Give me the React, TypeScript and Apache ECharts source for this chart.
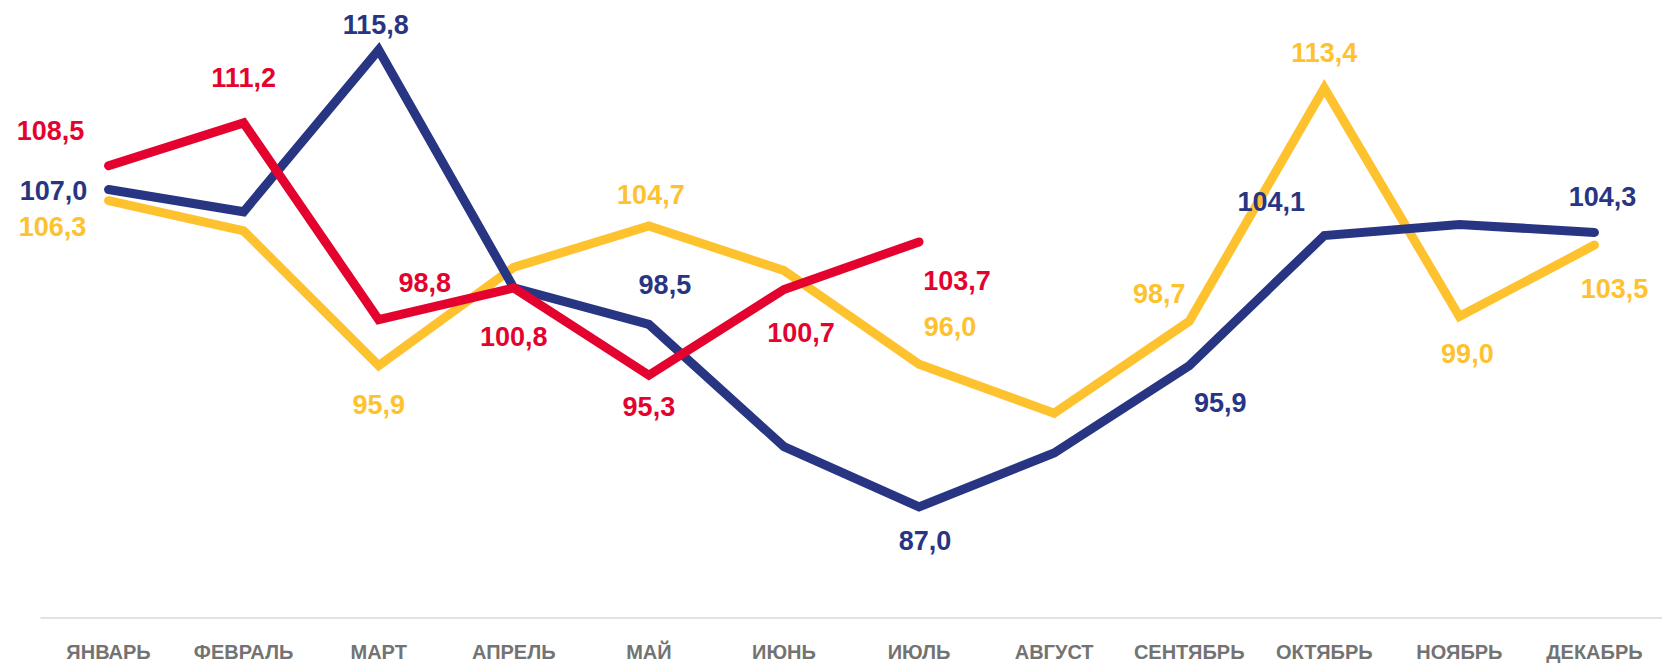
import React, { useEffect, useRef } from "react";
import * as echarts from "echarts";

const months = ["ЯНВАРЬ", "ФЕВРАЛЬ", "МАРТ", "АПРЕЛЬ", "МАЙ", "ИЮНЬ", "ИЮЛЬ", "АВГУСТ", "СЕНТЯБРЬ", "ОКТЯБРЬ", "НОЯБРЬ", "ДЕКАБРЬ"];

const navyValues = [107.0, 105.6, 115.8, 100.8, 98.5, 90.8, 87.0, 90.4, 95.9, 104.1, 104.8, 104.3];
const yellowValues = [106.3, 104.4, 95.9, 102.1, 104.7, 101.9, 96.0, 92.9, 98.7, 113.4, 99.0, 103.5];
const redValues = [108.5, 111.2, 98.8, 100.8, 95.3, 100.7, 103.7];

// label offsets [dx, dy] relative to point; null = no label
const navyLabelOffsets: (number[] | null)[] = [[-55, 1], null, [-3, -25], null, [16, -39], null, [6, 34], null, [31, 37], [-53, -34], null, [8, -35]];
const yellowLabelOffsets: (number[] | null)[] = [[-56, 26], null, [0, 39], null, [2, -31], null, [31, -37], null, [-30, -27], [0, -35], [8, 37], [20, 44]];
const redLabelOffsets: (number[] | null)[] = [[-58, -35], [0, -45], [46, -37], [0, 49], [0, 32], [17, 43], [38, 39]];

const NAVY = "#283583";
const YELLOW = "#ffc22f";
const RED = "#e4032e";

const fmt = (v: number) => v.toFixed(1).replace(".", ",");

function buildData(values: number[], offsets: (number[] | null)[], color: string) {
  return values.map((v, i) => {
    const off = offsets[i];
    return {
      value: v,
      label: off
        ? {
            show: true,
            position: "inside",
            offset: off,
            color,
            fontSize: 27,
            fontWeight: "bold",
            fontFamily: "Liberation Sans, Arial, sans-serif",
            formatter: () => fmt(v),
          }
        : { show: false },
    };
  });
}

function makeSeries(name: string, values: number[], offsets: (number[] | null)[], color: string, z: number) {
  return {
    name,
    type: "line",
    z,
    data: buildData(values, offsets, color),
    symbol: "circle",
    symbolSize: 0.1,
    showSymbol: true,
    itemStyle: { color },
    lineStyle: { color, width: 9, cap: "round", join: "miter" },
    emphasis: { disabled: true },
  };
}

export default function App() {
  const ref = useRef<HTMLDivElement>(null);
  useEffect(() => {
    if (!ref.current) return;
    const chart = echarts.init(ref.current, null, { renderer: "svg" });
    chart.setOption({
      animation: false,
      backgroundColor: "#ffffff",
      grid: { left: 41, width: 1625, top: 15, bottom: 46, containLabel: false },
      xAxis: {
        type: "category",
        data: months,
        boundaryGap: true,
        axisLine: { show: true, lineStyle: { color: "#d9d9d9", width: 1.5 } },
        axisTick: { show: false },
        axisLabel: {
          color: "#737373",
          fontSize: 20,
          fontWeight: "bold",
          fontFamily: "Liberation Sans, Arial, sans-serif",
          margin: 24,
          interval: 0,
        },
      },
      yAxis: {
        type: "value",
        min: 80,
        max: 118,
        show: false,
        splitLine: { show: false },
      },
      series: [
        makeSeries("yellow", yellowValues, yellowLabelOffsets, YELLOW, 2),
        makeSeries("navy", navyValues, navyLabelOffsets, NAVY, 3),
        makeSeries("red", redValues, redLabelOffsets, RED, 4),
      ],
    });
    return () => chart.dispose();
  }, []);
  return <div ref={ref} style={{ position: "absolute", left: 0, top: 0, width: 1662, height: 664 }} />;
}
